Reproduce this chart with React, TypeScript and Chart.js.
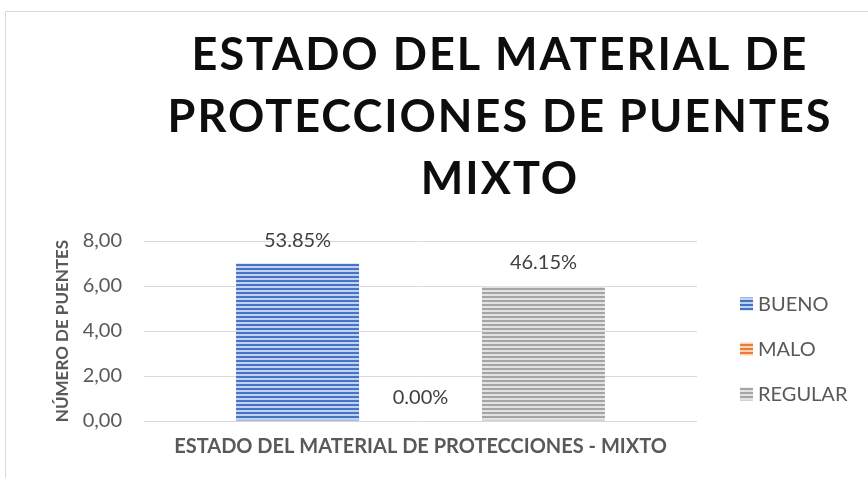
import React, { useEffect, useRef } from 'react';
import { Chart, registerables } from 'chart.js';

Chart.register(...registerables);

const titleLines = ['ESTADO DEL MATERIAL DE', 'PROTECCIONES DE PUENTES', 'MIXTO'];
const categories = ['ESTADO DEL MATERIAL DE PROTECCIONES - MIXTO'];
const seriesNames = ['BUENO', 'MALO', 'REGULAR'];
const buenoValues = [7];
const maloValues = [0];
const regularValues = [6];
const seriesPercents = ['53.85%', '0.00%', '46.15%'];
const seriesColors = ['#4472C4', '#ED7D31', '#A5A5A5'];
const stripeColors = ['#C3D2EC', '#F9D3BA', '#E2E2E2'];
const yMin = 0;
const yMax = 8;
const yStep = 2;
const yAxisTitle = 'NÚMERO DE PUENTES';

const FONT = 'Lato, "Open Sans", sans-serif';

function makePattern(color: string, stripe: string): CanvasPattern | string {
  const c = document.createElement('canvas');
  c.width = 4;
  c.height = 4;
  const g = c.getContext('2d');
  if (!g) return color;
  g.fillStyle = stripe;
  g.fillRect(0, 0, 4, 4);
  g.fillStyle = color;
  g.fillRect(0, 0, 4, 2);
  const p = g.createPattern(c, 'repeat');
  return p || color;
}

export default function App() {
  const ref = useRef<HTMLCanvasElement | null>(null);

  useEffect(() => {
    const canvas = ref.current;
    if (!canvas) return;
    const patterns = seriesColors.map((c, i) => makePattern(c, stripeColors[i]));
    const valuesList = [buenoValues, maloValues, regularValues];

    const framePlugin = {
      id: 'frame',
      beforeDraw(chart: any) {
        const ctx = chart.ctx;
        ctx.save();
        ctx.fillStyle = '#ffffff';
        ctx.fillRect(0, 0, chart.width, chart.height);
        ctx.strokeStyle = '#D9D9D9';
        ctx.lineWidth = 1;
        ctx.beginPath();
        ctx.moveTo(5.5, chart.height + 2);
        ctx.lineTo(5.5, 11.5);
        ctx.lineTo(chart.width + 2, 11.5);
        ctx.stroke();
        ctx.restore();
      },
    };

    const titlePlugin = {
      id: 'bigTitle',
      afterDraw(chart: any) {
        const ctx = chart.ctx;
        ctx.save();
        ctx.font = `bold 45px ${FONT}`;
        (ctx as any).letterSpacing = '2px';
        ctx.fillStyle = '#0D0D0D';
        ctx.textAlign = 'center';
        ctx.textBaseline = 'middle';
        titleLines.forEach((line, i) => {
          ctx.fillText(line, 500, 55 + i * 62);
        });
        ctx.restore();
      },
    };

    const labelPlugin = {
      id: 'pctLabels',
      afterDatasetsDraw(chart: any) {
        const ctx = chart.ctx;
        ctx.save();
        ctx.font = `20px ${FONT}`;
        ctx.fillStyle = '#404040';
        ctx.textAlign = 'center';
        ctx.textBaseline = 'middle';
        chart.data.datasets.forEach((ds: any, di: number) => {
          const meta = chart.getDatasetMeta(di);
          meta.data.forEach((el: any) => {
            ctx.fillText(seriesPercents[di], el.x, el.y - 23);
          });
        });
        ctx.restore();
      },
    };

    const legendPlugin = {
      id: 'sideLegend',
      afterDraw(chart: any) {
        const ctx = chart.ctx;
        ctx.save();
        ctx.font = `20px ${FONT}`;
        ctx.textAlign = 'left';
        ctx.textBaseline = 'middle';
        chart.data.datasets.forEach((ds: any, i: number) => {
          const y = 304.5 + i * 45;
          ctx.fillStyle = patterns[i];
          ctx.fillRect(740, y - 7, 13, 13);
          ctx.fillStyle = '#595959';
          ctx.fillText(ds.label, 758, y);
        });
        ctx.restore();
      },
    };

    const chart = new Chart(canvas, {
      type: 'bar',
      data: {
        labels: categories,
        datasets: seriesNames.map((name, i) => ({
          label: name,
          data: valuesList[i],
          backgroundColor: patterns[i] as any,
          borderWidth: 0,
          categoryPercentage: 0.667,
          barPercentage: 1,
        })),
      },
      options: {
        responsive: false,
        animation: false,
        devicePixelRatio: 1,
        layout: { padding: { left: 40, top: 241, right: 171, bottom: 0 } },
        plugins: {
          legend: { display: false },
          title: { display: false },
          tooltip: { enabled: false },
        },
        scales: {
          x: {
            grid: { display: false },
            border: { display: false },
            ticks: {
              font: { family: FONT, size: 20, weight: 'bold' },
              color: '#595959',
              padding: 6,
            },
            afterFit(scale: any) {
              scale.height = 57;
            },
          },
          y: {
            min: yMin,
            max: yMax,
            ticks: {
              stepSize: yStep,
              font: { family: FONT, size: 20 },
              color: '#595959',
              padding: 22,
              callback: (v: any) => Number(v).toFixed(2).replace('.', ','),
            },
            grid: { color: '#D9D9D9', drawTicks: false, lineWidth: 1 },
            border: { display: false },
            title: {
              display: true,
              text: yAxisTitle,
              font: { family: FONT, size: 17, weight: 'bold' },
              color: '#595959',
              padding: { top: 12, bottom: 0 },
            },
            afterFit(scale: any) {
              scale.width = 104;
            },
          },
        },
      },
      plugins: [framePlugin, titlePlugin, labelPlugin, legendPlugin],
    });

    return () => chart.destroy();
  }, []);

  return (
    <div style={{ position: 'absolute', left: 0, top: 0, width: 868, height: 478 }}>
      <canvas ref={ref} width={868} height={478} />
    </div>
  );
}
